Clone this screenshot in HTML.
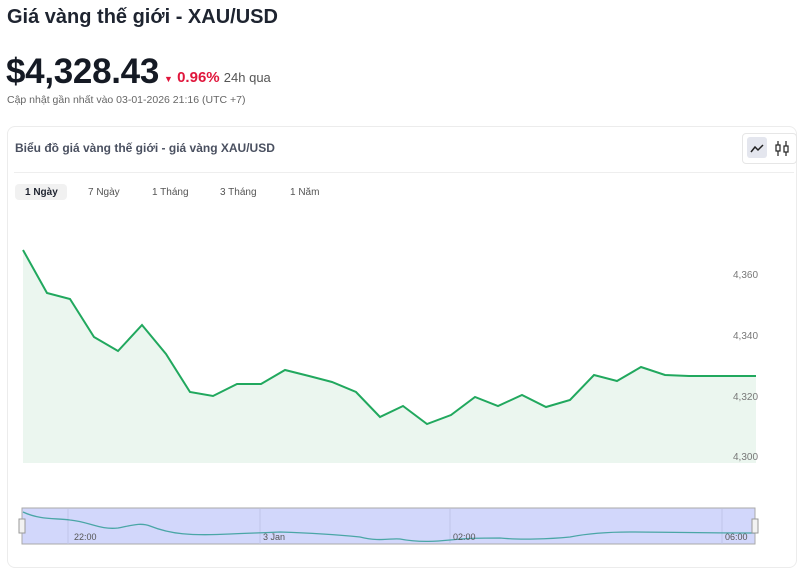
<!DOCTYPE html>
<html><head><meta charset="utf-8"><style>
body{margin:0;width:800px;height:554px;background:#fff;font-family:"Liberation Sans",sans-serif;overflow:hidden;position:relative;color:#1f2430}
.a{position:absolute;white-space:nowrap}
</style></head><body>
<div class="a" style="left:7px;top:6px;font-size:20px;font-weight:bold;color:#1e2430">Giá vàng thế giới - XAU/USD</div>
<div class="a" style="left:6px;top:52px;font-size:35px;font-weight:bold;color:#151a24;letter-spacing:-0.3px">$4,328.43</div>
<div class="a" style="left:164px;top:69px;font-size:15px;font-weight:bold;color:#e0163c"><span style="font-size:9px">▼</span> 0.96% <span style="color:#555;font-weight:normal;font-size:13px">24h qua</span></div>
<div class="a" style="left:7px;top:94px;font-size:10.5px;color:#666">Cập nhật gần nhất vào 03-01-2026 21:16 (UTC +7)</div>
<div class="a" style="left:7px;top:126px;width:788px;height:440px;border:1px solid #ececec;border-radius:8px"></div>
<div class="a" style="left:15px;top:141px;font-size:12px;font-weight:bold;color:#4a5060">Biểu đồ giá vàng thế giới - giá vàng XAU/USD</div>
<div class="a" style="left:742px;top:133px;width:53px;height:29px;border:1px solid #e6e6e6;border-radius:4px"></div>
<div class="a" style="left:747px;top:137px;width:20px;height:21px;background:#e4e6ee;border-radius:3px"></div>
<svg class="a" style="left:0;top:0" width="800" height="200">
<polyline points="751,152 755,147 758,150 763,145" fill="none" stroke="#222" stroke-width="1.5"/>
<g stroke="#222" stroke-width="1.2" fill="none"><line x1="778" y1="141" x2="778" y2="156"/><rect x="776" y="145" width="4" height="6" fill="#fff"/><line x1="786" y1="141" x2="786" y2="156"/><rect x="784" y="146" width="4" height="6" fill="#fff"/></g>
</svg>
<div class="a" style="left:14px;top:172px;width:780px;height:1px;background:#eee"></div>
<div class="a" style="left:15px;top:184px;width:52px;height:16px;background:#f1f1f1;border-radius:4px"></div>
<div class="a" style="left:25px;top:187px;font-size:10px;font-weight:bold">1 Ngày</div>
<div class="a" style="left:88px;top:187px;font-size:10px;color:#555">7 Ngày</div>
<div class="a" style="left:152px;top:187px;font-size:10px;color:#555">1 Tháng</div>
<div class="a" style="left:220px;top:187px;font-size:10px;color:#555">3 Tháng</div>
<div class="a" style="left:290px;top:187px;font-size:10px;color:#555">1 Năm</div>
<svg class="a" style="left:0;top:0" width="800" height="554">
<polygon fill="#ebf6ef" points="23,250 47,293 70,299 94,337 118,351 142,325 166,354 190,392 213,396 237,384 261,384 285,370 309,376 332,382 356,392 380,417 403,406 427,424 451,415 475,397 498,406 522,395 546,407 570,400 594,375 617,381 641,367 665,375 689,376 712,376 756,376 756,463 23,463"/>
<polyline fill="none" stroke="#21a85e" stroke-width="2" points="23,250 47,293 70,299 94,337 118,351 142,325 166,354 190,392 213,396 237,384 261,384 285,370 309,376 332,382 356,392 380,417 403,406 427,424 451,415 475,397 498,406 522,395 546,407 570,400 594,375 617,381 641,367 665,375 689,376 712,376 756,376"/>
<g font-size="10" fill="#777"><text x="733" y="278">4,360</text><text x="733" y="339">4,340</text><text x="733" y="400">4,320</text><text x="733" y="460">4,300</text></g>
<rect x="22" y="508" width="733" height="36" fill="#d2d7fb" stroke="#aaa"/>
<g stroke="#c0c4e8"><line x1="68" y1="509" x2="68" y2="544"/><line x1="260" y1="509" x2="260" y2="544"/><line x1="450" y1="509" x2="450" y2="544"/><line x1="722" y1="509" x2="722" y2="544"/></g>
<path d="M23,512 C40,520 55,518 70,520 C90,522 100,530 118,528 C130,526 140,522 150,526 C170,534 190,536 230,534 C250,533 260,533 280,532 C310,533 340,535 360,537 C380,542 390,538 400,539 C420,543 440,541 450,540 C470,538 480,538 500,538 C520,540 550,539 570,537 C590,533 610,532 630,532 C660,532 700,533 755,533" fill="none" stroke="#4aa6a6" stroke-width="1.3"/>
<g font-size="9" fill="#555"><text x="74" y="540">22:00</text><text x="263" y="540">3 Jan</text><text x="453" y="540">02:00</text><text x="725" y="540">06:00</text></g>
<rect x="19" y="519" width="6" height="14" fill="#f2f2f2" stroke="#999"/><rect x="752" y="519" width="6" height="14" fill="#f2f2f2" stroke="#999"/>
</svg>
</body></html>
